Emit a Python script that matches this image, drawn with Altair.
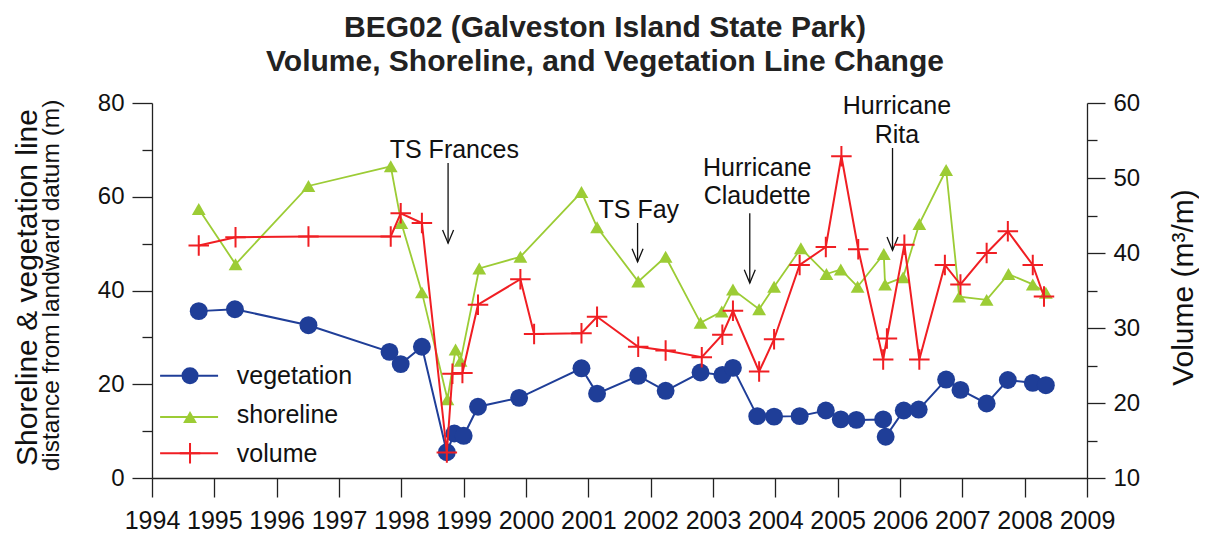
import altair as alt
import pandas as pd

# ---------------- data ----------------
veg_year = [1994.75, 1995.33, 1996.51, 1997.81, 1997.99, 1998.33, 1998.73, 1998.85, 1999.00,
            1999.23, 1999.89, 2000.89, 2001.14, 2001.80, 2002.24, 2002.80, 2003.15, 2003.32,
            2003.71, 2003.98, 2004.39, 2004.81, 2005.05, 2005.30, 2005.73, 2005.77, 2006.06,
            2006.30, 2006.74, 2006.97, 2007.39, 2007.73, 2008.13, 2008.34]
veg_val = [35.6, 36.0, 32.6, 26.9, 24.3, 28.0, 5.5, 9.5, 9.0,
           15.2, 17.1, 23.4, 18.0, 21.8, 18.6, 22.5, 22.0, 23.5,
           13.2, 13.1, 13.2, 14.4, 12.5, 12.4, 12.5, 8.8, 14.4,
           14.6, 21.0, 18.8, 15.9, 20.9, 20.3, 19.8]

shore_year = [1994.75, 1995.34, 1996.51, 1997.83, 1998.00, 1998.33, 1998.74, 1998.87, 1998.95,
              1999.25, 1999.91, 2000.89, 2001.14, 2001.80, 2002.24, 2002.80, 2003.14, 2003.32,
              2003.74, 2003.98, 2004.41, 2004.82, 2005.05, 2005.32, 2005.74, 2005.76, 2006.05,
              2006.31, 2006.74, 2006.95, 2007.39, 2007.74, 2008.13, 2008.34]
shore_val = [57.4, 45.6, 62.3, 66.5, 54.4, 39.6, 16.8, 27.4, 25.0,
             44.7, 47.2, 61.0, 53.5, 41.9, 47.2, 33.1, 35.5, 40.2,
             36.0, 40.8, 49.0, 43.5, 44.5, 40.8, 47.8, 41.3, 42.8,
             54.2, 65.7, 38.7, 38.0, 43.5, 41.3, 39.5]

vol_year = [1994.75, 1995.34, 1996.51, 1997.83, 1997.99, 1998.33, 1998.73, 1998.82, 1998.98,
            1999.23, 1999.91, 2000.13, 2000.89, 2001.14, 2001.80, 2002.24, 2002.82, 2003.15,
            2003.32, 2003.74, 2003.98, 2004.39, 2004.81, 2005.06, 2005.33, 2005.73, 2005.79,
            2006.07, 2006.31, 2006.72, 2006.97, 2007.39, 2007.73, 2008.13, 2008.31]
vol_val = [41.0, 42.1, 42.2, 42.2, 45.3, 44.0, 13.4, 23.9, 24.0,
           33.1, 36.5, 29.2, 29.3, 31.5, 27.5, 27.0, 26.1, 29.1,
           32.3, 24.2, 28.5, 38.4, 40.8, 52.9, 40.5, 25.8, 28.6,
           41.1, 25.8, 38.4, 35.8, 40.0, 42.9, 38.4, 34.2]

# storm annotations (text lines and arrows, in data units)
ann_text = ["TS Frances", "TS Fay", "Hurricane", "Claudette", "Hurricane", "Rita"]
ann_year = [1998.85, 2001.81, 2003.71, 2003.71, 2005.95, 2005.95]
ann_val = [68.3, 55.5, 64.4, 58.5, 77.7, 71.5]
arrow_year = [1998.75, 2001.79, 2003.59, 2005.88]
arrow_top = [67.2, 54.4, 56.5, 70.4]
arrow_tip = [50.1, 46.1, 41.6, 48.6]

x_ticks = list(range(1994, 2010))
left_major = [0, 20, 40, 60, 80]
left_minor = [10, 30, 50, 70]
right_major = [10, 20, 30, 40, 50, 60]
right_minor = [15, 25, 35, 45, 55]

leg_names = ["vegetation", "shoreline", "volume"]

# ---------------- styling ----------------
FONT = "Liberation Sans"
BLUE = "#1f3e98"
GREEN = "#9ccc35"
RED = "#f01e23"
CROSS = "M-1,0L1,0M0,-1L0,1"
ARROWHEAD = "M-1,-2.4L0,0L1,-2.4"

veg = pd.DataFrame({"year": veg_year, "val": veg_val})
shore = pd.DataFrame({"year": shore_year, "val": shore_val})
vol = pd.DataFrame({"year": vol_year, "vol": vol_val})
ann = pd.DataFrame({"year": ann_year, "val": ann_val, "label": ann_text})
arrows = pd.DataFrame({"year": arrow_year, "val": arrow_top, "tip": arrow_tip})

# legend placement (data units of the left axis)
leg = pd.DataFrame({
    "name": leg_names,
    "x0": [1994.13] * 3,
    "x1": [1995.06] * 3,
    "xm": [1994.61] * 3,
    "xt": [1995.36] * 3,
    "val": [21.8, 13.0, 5.3],
    "tval": [20.1, 11.7, 3.4],
})

x_axis = alt.Axis(values=x_ticks, format="d", tickSize=19, labelPadding=11, labelFontSize=25,
                  labelOverlap=False, labelFlush=False, grid=False, title=None)
x_scale = alt.Scale(domain=[1994, 2009], nice=False, zero=False)


def X(field):
    return alt.X(f"{field}:Q", scale=x_scale, axis=x_axis)


left_axis = alt.Axis(orient="left", values=left_major, tickSize=20, labelPadding=8, labelFontSize=24,
                     grid=False, title="Shoreline & vegetation line", titleFontSize=30,
                     titleFontWeight="normal", titleAngle=270, titleBaseline="alphabetic",
                     titleAlign="center", titleX=-116, titleY=184)
left_scale = alt.Scale(domain=[0, 80], nice=False, zero=False)


def YL(field):
    return alt.Y(f"{field}:Q", scale=left_scale, axis=left_axis)


right_axis = alt.Axis(orient="right", values=right_major, tickSize=18, labelPadding=8, labelFontSize=24,
                      grid=False, title="Volume (m³/m)", titleFontSize=30, titleFontWeight="normal",
                      titleAngle=270, titleBaseline="alphabetic", titleAlign="center",
                      titleX=105, titleY=184)
right_scale = alt.Scale(domain=[10, 60], nice=False, zero=False)

# ---------------- left (distance) group ----------------
veg_line = alt.Chart(veg).mark_line(color=BLUE, strokeWidth=2).encode(x=X("year"), y=YL("val"))
veg_pts = alt.Chart(veg).mark_point(shape="circle", filled=True, color=BLUE, size=320, opacity=1).encode(
    x=X("year"), y=YL("val"))
sh_line = alt.Chart(shore).mark_line(color=GREEN, strokeWidth=1.8).encode(x=X("year"), y=YL("val"))
sh_pts = alt.Chart(shore).mark_point(shape="triangle-up", filled=True, color=GREEN, size=190, opacity=1).encode(
    x=X("year"), y=YL("val"))

ann_txt = alt.Chart(ann).mark_text(fontSize=25, font=FONT, color="#111", align="center",
                                   baseline="alphabetic").encode(x=X("year"), y=YL("val"), text="label:N")
arr_line = alt.Chart(arrows).mark_rule(color="#111", strokeWidth=1.3).encode(
    x=X("year"), y=YL("val"), y2=alt.Y2("tip"))
arr_head = alt.Chart(arrows).mark_point(shape=ARROWHEAD, filled=False, color="#111", size=121,
                                        strokeWidth=1.3, opacity=1).encode(x=X("year"), y=YL("tip"))

leg_color = alt.Color("name:N", scale=alt.Scale(domain=leg_names, range=[BLUE, GREEN, RED]), legend=None)
leg_rule = alt.Chart(leg).mark_rule(strokeWidth=2).encode(x=X("x0"), x2=alt.X2("x1"), y=YL("val"),
                                                          color=leg_color)
leg_veg = alt.Chart(leg).transform_filter("datum.name == 'vegetation'").mark_point(
    shape="circle", filled=True, color=BLUE, size=290, opacity=1).encode(x=X("xm"), y=YL("val"))
leg_sh = alt.Chart(leg).transform_filter("datum.name == 'shoreline'").mark_point(
    shape="triangle-up", filled=True, color=GREEN, size=190, opacity=1).encode(x=X("xm"), y=YL("val"))
leg_vol = alt.Chart(leg).transform_filter("datum.name == 'volume'").mark_point(
    shape=CROSS, filled=False, color=RED, size=420, strokeWidth=2, opacity=1).encode(x=X("xm"), y=YL("val"))
leg_txt = alt.Chart(leg).mark_text(fontSize=25, font=FONT, color="#111", align="left",
                                   baseline="alphabetic").encode(x=X("xt"), y=YL("tval"), text="name:N")

left = alt.layer(veg_line, veg_pts, sh_line, sh_pts, arr_line, arr_head, ann_txt,
                 leg_rule, leg_veg, leg_sh, leg_vol, leg_txt)

left_minor_layer = alt.Chart(veg).mark_point(opacity=0).encode(
    x=X("year"),
    y=alt.Y("val:Q", scale=left_scale,
            axis=alt.Axis(orient="left", values=left_minor, tickSize=10, labels=False, domain=False,
                          grid=False, title="distance from landward datum (m)", titleFontSize=24.5,
                          titleFontWeight="normal", titleAngle=270, titleBaseline="alphabetic",
                          titleAlign="center", titleX=-94, titleY=182)))

# ---------------- right (volume) group ----------------
vol_line = alt.Chart(vol).mark_line(color=RED, strokeWidth=2).encode(
    x=X("year"), y=alt.Y("vol:Q", scale=right_scale, axis=right_axis))
vol_pts = alt.Chart(vol).mark_point(shape=CROSS, filled=False, color=RED, size=420, strokeWidth=2,
                                    opacity=1).encode(
    x=X("year"), y=alt.Y("vol:Q", scale=right_scale, axis=right_axis))
right = alt.layer(vol_line, vol_pts)

right_minor_layer = alt.Chart(vol).mark_point(opacity=0).encode(
    x=X("year"),
    y=alt.Y("vol:Q", scale=right_scale,
            axis=alt.Axis(orient="right", values=right_minor, tickSize=10, labels=False, domain=False,
                          grid=False, title=None)))

chart = alt.layer(left, left_minor_layer, right, right_minor_layer).resolve_scale(
    y="independent"
).properties(
    width=935,
    height=375,
    padding={"left": 144, "top": 95, "right": 112, "bottom": 54},
    autosize=alt.AutoSizeParams(type="none"),
    title=alt.TitleParams(
        ["BEG02 (Galveston Island State Park)", "Volume, Shoreline, and Vegetation Line Change"],
        fontSize=30, fontWeight="bold", font=FONT, color="#222", anchor="middle", frame="bounds",
        lineHeight=34, offset=14),
).configure_axis(
    domainColor="#222", tickColor="#222", labelColor="#111", titleColor="#111",
    labelFont=FONT, titleFont=FONT, domainWidth=1.3, tickWidth=1.3,
).configure_view(strokeWidth=0)

chart.save("out.html", embed_options={"renderer": "svg", "actions": False})
